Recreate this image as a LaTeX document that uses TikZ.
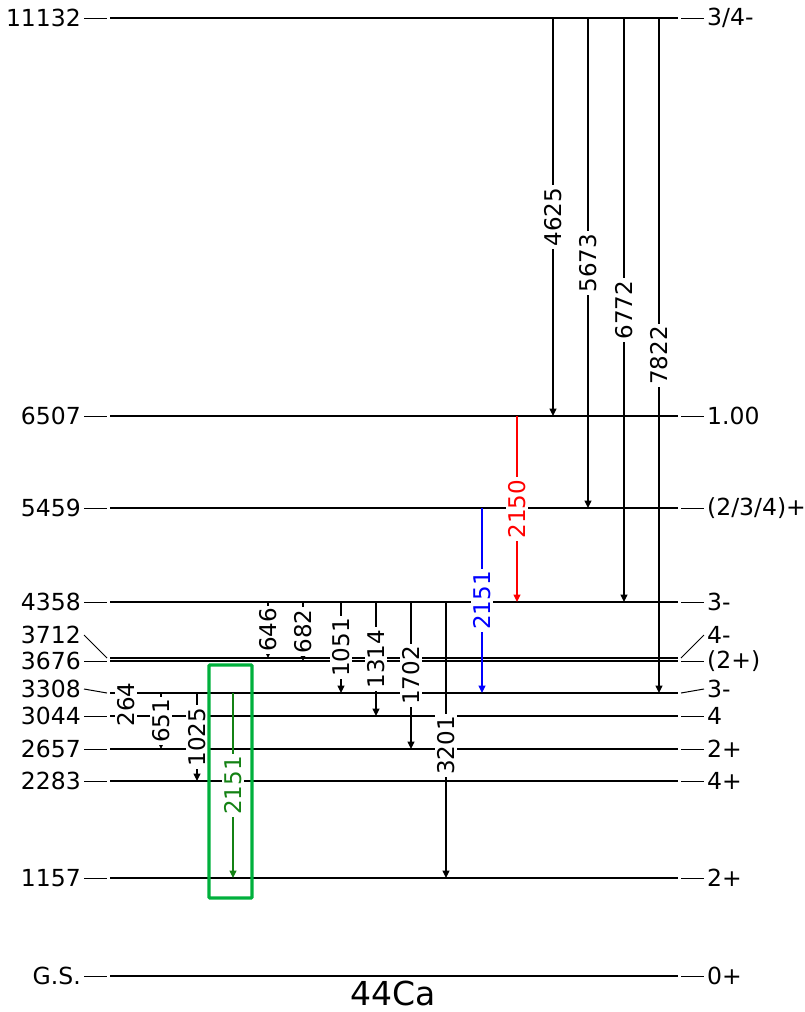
\documentclass[tikz,border=0pt]{standalone}
\usepackage{fontspec}
\setmainfont{DejaVu Sans}
\usetikzlibrary{arrows.meta}
\definecolor{boxgreen}{RGB}{0,176,60}
\definecolor{lgreen}{RGB}{20,130,20}
\begin{document}
\begin{tikzpicture}[x=1pt,y=-1pt,
  lvl/.style={line width=1.1pt},
  gslvl/.style={line width=2.6pt},
  tickline/.style={line width=1pt},
  lname/.style={anchor=east, inner sep=0pt, font=\fontsize{23.5}{23.5}\selectfont},
  rname/.style={anchor=west, inner sep=0pt, font=\fontsize{23.5}{23.5}\selectfont},
  tr/.style={line width=1.1pt, -{Triangle[length=7.5pt,width=7pt]}},
  lab/.style={midway, rotate=90, fill=white, inner sep=2.5pt, font=\fontsize{23}{23}\selectfont},
]
\useasboundingbox (0,0) rectangle (805,1012);

% level coordinates
\foreach \n/\y in {11132/18, 6507/416, 5459/508, 4358/602, 3712/658, 3676/661, 3308/693, 3044/716, 2657/749, 2283/781, 1157/878, GS/976}{
  \coordinate (L\n l) at (110,\y);
  \coordinate (L\n r) at (678,\y);
}
% level lines
\foreach \n in {11132,6507,5459,4358,3712,3676,3308,3044,2657,2283,1157}{
  \draw[lvl] (L\n l) -- (L\n r);
}
\draw[gslvl] (LGSl) -- (LGSr);

% left names
\node[lname] (N11132) at (81,18) {11132};
\node[lname] (N6507) at (81,416) {6507};
\node[lname] (N5459) at (81,508) {5459};
\node[lname] (N4358) at (81,602) {4358};
\node[lname] (N3712) at (81,635) {3712};
\node[lname] (N3676) at (81,661) {3676};
\node[lname] (N3308) at (81,689) {3308};
\node[lname] (N3044) at (81,716) {3044};
\node[lname] (N2657) at (81,749) {2657};
\node[lname] (N2283) at (81,781) {2283};
\node[lname] (N1157) at (81,878) {1157};
\node[lname] (NGS) at (81,976) {G.S.};
\foreach \n in {11132,6507,5459,4358,3712,3676,3308,3044,2657,2283,1157,GS}{
  \draw[tickline] ([xshift=3pt]N\n.east) -- ([xshift=-3pt]L\n l);
}

% right names
\node[rname] (R11132) at (707,18) {3/4-};
\node[rname] (R6507) at (707,416) {1.00};
\node[rname] (R5459) at (707,508) {(2/3/4)+};
\node[rname] (R4358) at (707,602) {3-};
\node[rname] (R3712) at (707,635) {4-};
\node[rname] (R3676) at (707,661) {(2+)};
\node[rname] (R3308) at (707,689) {3-};
\node[rname] (R3044) at (707,716) {4};
\node[rname] (R2657) at (707,749) {2+};
\node[rname] (R2283) at (707,781) {4+};
\node[rname] (R1157) at (707,878) {2+};
\node[rname] (RGS) at (707,976) {0+};
\foreach \n in {11132,6507,5459,4358,3712,3676,3308,3044,2657,2283,1157,GS}{
  \draw[tickline] ([xshift=3pt]L\n r) -- ([xshift=-3pt]R\n.west);
}

% transitions
\draw[tr] (553,0 |- L11132l) -- (553,0 |- L6507l) node[lab] (t4625) {4625};
\draw[tr] (588,0 |- L11132l) -- (588,0 |- L5459l) node[lab] (t5673) {5673};
\draw[tr] (624,0 |- L11132l) -- (624,0 |- L4358l) node[lab] (t6772) {6772};
\draw[tr] (659,0 |- L11132l) -- (659,0 |- L3308l) node[lab] (t7822) {7822};
\draw[tr, red] (517,0 |- L6507l) -- (517,0 |- L4358l) node[lab, text=red] (t2150) {2150};
\draw[tr, blue] (482,0 |- L5459l) -- (482,0 |- L3308l) node[lab, text=blue] (t2151b) {2151};
\draw[tr] (268,0 |- L4358l) -- (268,0 |- L3712l) node[lab] (t646) {646};
\draw[tr] (303,0 |- L4358l) -- (303,0 |- L3676l) node[lab] (t682) {682};
\draw[tr] (341,0 |- L4358l) -- (341,0 |- L3308l) node[lab] (t1051) {1051};
\draw[tr] (376,0 |- L4358l) -- (376,0 |- L3044l) node[lab] (t1314) {1314};
\draw[tr] (411,0 |- L4358l) -- (411,0 |- L2657l) node[lab] (t1702) {1702};
\draw[tr] (446,0 |- L4358l) -- (446,0 |- L1157l) node[lab, pos=0.52] (t3201) {3201};
\draw[tr] (126,0 |- L3308l) -- (126,0 |- L3044l) node[lab] (t264) {264};
\draw[tr] (161,0 |- L3308l) -- (161,0 |- L2657l) node[lab] (t651) {651};
\draw[tr] (197,0 |- L3308l) -- (197,0 |- L2283l) node[lab] (t1025) {1025};
\draw[tr, lgreen] (233,0 |- L3308l) -- (233,0 |- L1157l) node[lab, text=lgreen] (t2151g) {2151};

% highlight box
\draw[boxgreen, line width=3.4pt, rounded corners=1pt] (209,665) rectangle (252,898);

% title
\node[font=\fontsize{33}{33}\selectfont, inner sep=0pt] (title) at (393,993) {44Ca};
\end{tikzpicture}
\end{document}
